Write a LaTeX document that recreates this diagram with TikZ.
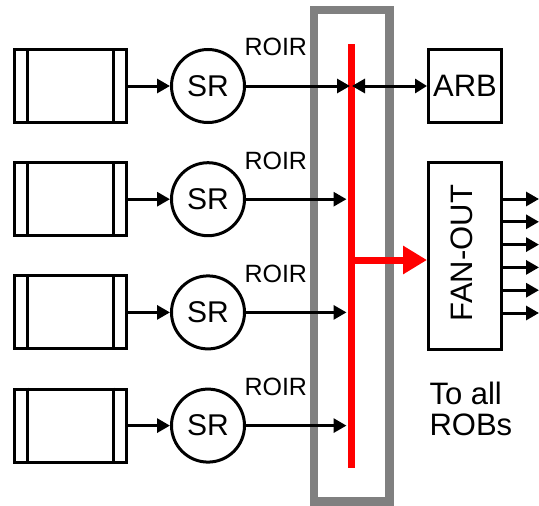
\documentclass[tikz,border=0pt]{standalone}
\usepackage{fontspec}
\setmainfont{Liberation Sans}
\usetikzlibrary{arrows.meta}

\begin{document}
\begin{tikzpicture}[x=1pt, y=-1pt, line width=3pt,
  buffer/.style={draw, minimum width=112pt, minimum height=73pt, inner sep=0},
  srnode/.style={draw, circle, minimum size=73pt, inner sep=0, font=\fontsize{30}{36}\selectfont},
  box/.style={draw, minimum width=73pt, inner sep=0},
  tip/.style={-{Triangle[length=13pt,width=14pt]}},
  lbl/.style={font=\fontsize{25}{30}\selectfont, inner sep=0},
  big/.style={font=\fontsize{31}{31}\selectfont, inner sep=0}]
% Frame in px: 539 x 506, y grows downward
\useasboundingbox (0,0) rectangle (539,506);

% Router frame and bus
\node[draw=gray, line width=8.5pt, minimum width=75.5pt, minimum height=491.5pt, inner sep=0] (hub) at (351.75,255.75) {};
\node[fill=red, minimum width=7pt, minimum height=424pt, inner sep=0] (bus) at (351.5,256) {};

% ARB and FAN-OUT
\node[box, minimum height=73pt, big] (arb) at (465,86) {ARB};
\node[box, minimum height=187pt] (fan) at (465,256) {};
\node[big, rotate=90] (fantxt) at (462,253) {FAN-OUT};

% Red branch to fan-out
\coordinate (tap) at (351.5,260);
\draw[red, line width=7pt, -{Triangle[length=24pt,width=27pt]}] (tap) -- (fan.west |- tap);

% Rows: buffer -> SR -> bus
\foreach \r/\y in {1/86, 2/199.2, 3/312.4, 4/425.6} {
  \node[buffer] (buf\r) at (70,\y) {};
  \draw ([xshift=15pt]buf\r.north west) -- ([xshift=15pt]buf\r.south west);
  \draw ([xshift=-14pt]buf\r.north east) -- ([xshift=-14pt]buf\r.south east);
  \node[srnode] (sr\r) at (208,\y) {SR};
  \node[lbl, anchor=base west] (roi\r) at (243,\y-30) {ROIR};
  \draw[tip] (buf\r) -- (sr\r);
}
\foreach \r in {2,3,4}
  \draw[tip] (sr\r) -- (bus.west |- sr\r);

% Row 1 also talks to ARB
\coordinate (jin) at (350,86);
\coordinate (jout) at (352,86);
\draw[tip] (sr1) -- (jin);
\draw[{Triangle[length=13pt,width=14pt]}-{Triangle[length=12pt,width=14pt]}] (jout) -- (arb);

% Fan-out outputs
\foreach \i/\y in {1/199, 2/221.8, 3/244.6, 4/267.4, 5/290.2, 6/313} {
  \coordinate (out\i) at (539,\y);
  \draw[tip] (fan.east |- out\i) -- (out\i);
}

\node[big, anchor=base west, align=left] (note) at (428,435) {To all\\ROBs};
\end{tikzpicture}
\end{document}
